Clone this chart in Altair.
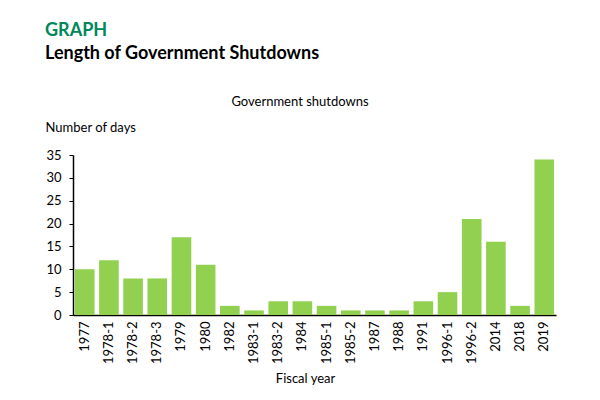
import altair as alt
import pandas as pd

years = ["1977", "1978-1", "1978-2", "1978-3", "1979", "1980", "1982", "1983-1",
         "1983-2", "1984", "1985-1", "1985-2", "1987", "1988", "1991", "1996-1",
         "1996-2", "2014", "2018", "2019"]
days = [10, 12, 8, 8, 17, 11, 2, 1, 3, 3, 2, 1, 1, 1, 3, 5, 21, 16, 2, 34]

FONT = "Lato"
df = pd.DataFrame({"year": years, "days": days})

bars = alt.Chart(df).mark_bar(color="#92D050").encode(
    x=alt.X("year:N", sort=years,
            scale=alt.Scale(paddingInner=0.19, paddingOuter=0.08),
            axis=alt.Axis(title="Fiscal year", labelAngle=-90, labelAlign="right",
                          labelBaseline="middle", labelPadding=6, ticks=False,
                          domainColor="#000", domainWidth=1.5, labelColor="#000",
                          labelFontSize=13, labelFont=FONT, titleFont=FONT,
                          titleFontSize=13, titleFontWeight="normal", titleColor="#000",
                          titleX=232, titleY=63, titleBaseline="middle")),
    y=alt.Y("days:Q", scale=alt.Scale(domain=[0, 35], nice=False),
            axis=alt.Axis(title="Number of days", values=[0, 5, 10, 15, 20, 25, 30, 35],
                          grid=False, domainColor="#000", domainWidth=1.5,
                          tickColor="#000", tickSize=4, labelPadding=8,
                          labelColor="#000", labelFontSize=13, labelFont=FONT,
                          titleFont=FONT, titleFontSize=13, titleFontWeight="normal",
                          titleColor="#000", titleAngle=0, titleAlign="left",
                          titleBaseline="middle", titleX=-28, titleY=-28)),
)

heading = pd.DataFrame({"t": ["GRAPH"]})
h1 = alt.Chart(heading).mark_text(font=FONT, fontSize=18, fontWeight="bold",
                                  color="#00875A", align="left", baseline="middle").encode(
    text="t:N", x=alt.value(-28), y=alt.value(-124))

heading2 = pd.DataFrame({"t": ["Length of Government Shutdowns"]})
h2 = alt.Chart(heading2).mark_text(font=FONT, fontSize=18, fontWeight="bold",
                                   color="#000", align="left", baseline="middle").encode(
    text="t:N", x=alt.value(-28), y=alt.value(-101))

heading3 = pd.DataFrame({"t": ["Government shutdowns"]})
h3 = alt.Chart(heading3).mark_text(font=FONT, fontSize=13, color="#000",
                                   align="center", baseline="middle").encode(
    text="t:N", x=alt.value(227), y=alt.value(-53))

chart = alt.layer(bars, h1, h2, h3).properties(
    width=483, height=160,
    autosize=alt.AutoSizeParams(type="none"),
    padding={"left": 65, "top": 147, "right": 30, "bottom": 70},
).configure_view(stroke=None)

chart.save("out.html", embed_options={"renderer": "svg", "actions": False})
